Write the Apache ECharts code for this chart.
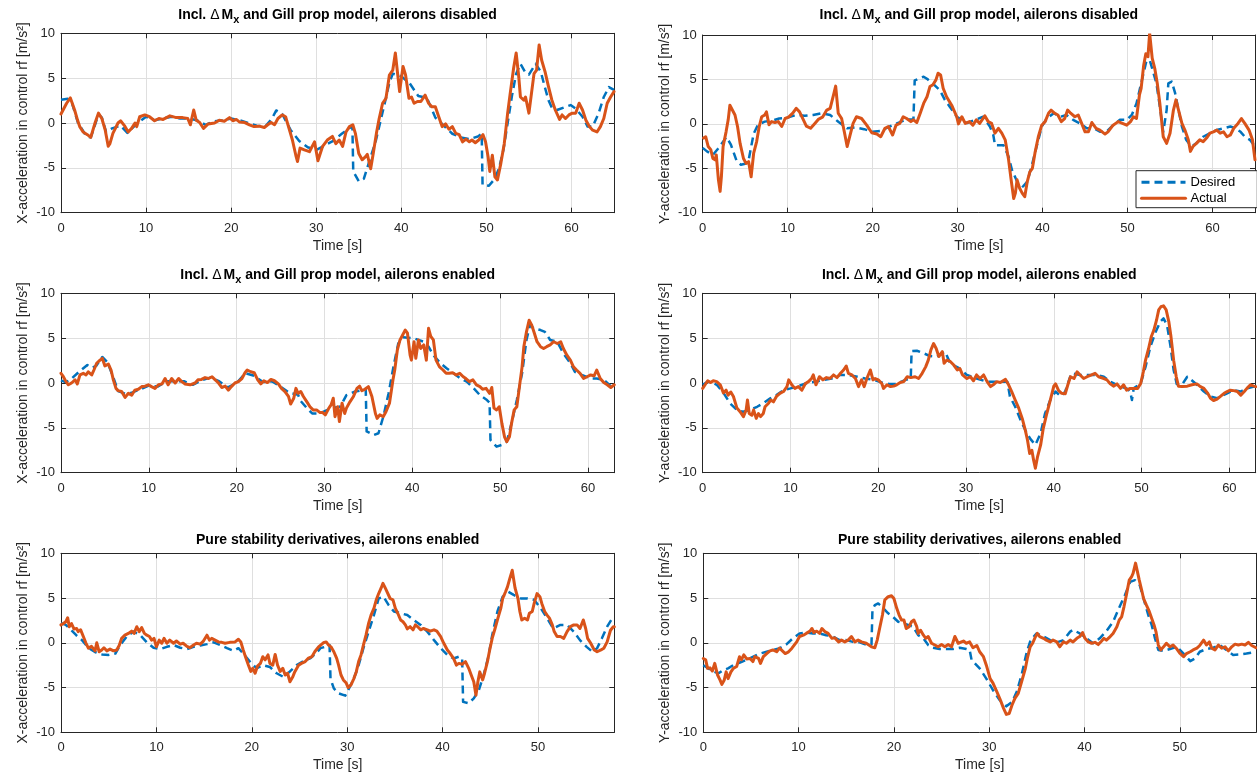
<!DOCTYPE html>
<html><head><meta charset="utf-8">
<script src="https://cdn.jsdelivr.net/npm/echarts@6/dist/echarts.min.js"></script>
<style>html,body{margin:0;padding:0;background:#fff}#c{width:1257px;height:778px}</style>
</head><body><div id="c"></div>
<script>
// ---------- DATA ----------
const actual1 = [[0,1.0],[0.66,2.2],[1.1,2.8],[1.6,1.45],[1.95,0.3],[2.2,-0.4],[2.6,-1.0],[3.1,-1.3],[3.5,-1.6],[3.7,-1.7],[4.0,0.0],[4.4,1.1],[4.8,0.5],[5.2,-0.8],[5.55,-2.6],[5.75,-2.3],[6.1,-1.15],[6.7,0.0],[7.0,0.25],[7.5,-0.35],[7.9,-1.0],[8.3,-0.6],[8.7,0.0],[8.9,-0.4],[9.25,0.7],[9.85,0.9],[10.4,0.7],[11.0,0.25],[11.5,0.5],[12.0,0.4],[12.8,0.8],[13.55,0.6],[14.3,0.6],[14.9,0.5],[15.2,-0.2],[15.6,1.45],[15.9,0.3],[16.3,0.05],[16.75,-0.6],[17.3,-0.1],[18.05,0.0],[18.6,0.3],[19.2,0.2],[19.8,0.6],[20.2,0.25],[20.6,0.4],[21.0,0.1],[21.6,0.05],[22.15,-0.2],[22.7,-0.4],[23.3,-0.35],[23.9,-0.5],[24.3,-0.2],[24.7,0.05],[25.1,-0.2],[25.5,0.5],[26.0,0.9],[26.4,0.7],[26.8,-0.6],[27.2,-1.9],[27.6,-3.6],[27.8,-4.3],[28.1,-2.8],[28.6,-3.0],[29.2,-3.2],[29.8,-2.1],[30.2,-4.2],[30.75,-2.6],[31.3,-1.9],[31.9,-1.5],[32.3,-2.3],[32.7,-1.9],[33.1,-2.6],[33.5,-1.0],[33.9,-0.4],[34.3,-0.2],[34.6,-1.15],[35.0,-3.4],[35.4,-4.1],[35.8,-3.75],[36.0,-3.5],[36.4,-5.1],[36.7,-3.4],[37.1,-1.0],[37.4,0.5],[37.8,2.2],[38.2,2.75],[38.6,5.35],[39.0,5.9],[39.3,7.8],[39.6,5.2],[39.8,3.5],[40.2,6.3],[40.5,5.35],[40.9,2.75],[41.2,2.9],[41.5,2.2],[41.9,2.4],[42.3,2.4],[42.8,3.1],[43.2,2.2],[43.6,1.8],[44.0,1.8],[44.4,0.7],[44.8,-0.4],[45.2,-0.1],[45.6,-0.7],[46.0,-0.4],[46.4,-1.15],[46.8,-1.3],[47.2,-2.1],[47.6,-1.8],[48.0,-2.1],[48.3,-1.9],[48.7,-2.2],[49.1,-1.9],[49.6,-1.3],[49.9,-2.1],[50.2,-3.75],[50.4,-5.4],[50.7,-3.6],[51.0,-6.0],[51.3,-6.35],[51.7,-4.5],[52.1,-2.3],[52.5,1.1],[52.8,3.3],[53.2,6.1],[53.5,7.8],[53.8,5.2],[54.0,2.9],[54.4,2.55],[54.6,2.9],[55.0,1.1],[55.3,3.3],[55.6,5.5],[55.9,5.9],[56.2,8.7],[56.5,7.0],[56.9,5.7],[57.3,4.05],[57.7,2.55],[58.1,1.45],[58.6,0.4],[58.9,0.9],[59.3,0.5],[59.7,0.9],[60.1,1.1],[60.5,1.1],[60.9,2.2],[61.3,1.45],[61.7,0.3],[62.1,-0.4],[62.5,-0.8],[63.0,-1.0],[63.4,-0.4],[63.8,0.5],[64.2,2.2],[64.6,2.9],[65,3.5]];
const desired1 = [[0,2.6],[0.8,2.7],[1.3,2.2],[2.0,0.0],[3.0,-1.5],[3.5,-1.6],[4.0,-0.2],[4.4,1.0],[4.8,0.6],[5.3,-1.0],[6.0,-0.6],[7.0,-0.3],[7.8,-1.1],[9.0,0.0],[10.0,0.7],[11.0,0.3],[12.0,0.5],[13.0,0.7],[14.0,0.5],[15.0,0.5],[16.0,0.3],[17.0,-0.2],[18.0,0.2],[19.0,0.3],[20.0,0.5],[21.0,0.3],[22.0,0.0],[23.0,-0.3],[24.0,-0.4],[24.8,0.5],[25.3,1.4],[26.0,1.0],[27.0,-0.8],[28.0,-2.0],[29.0,-2.7],[30.0,-3.0],[31.0,-2.5],[32.0,-2.0],[33.0,-1.2],[34.0,-0.5],[34.25,-0.4],[34.35,-5.4],[35.0,-6.5],[35.6,-6.2],[36.0,-5.0],[37.0,-2.0],[38.0,2.0],[38.6,4.5],[39.0,5.5],[40.0,5.2],[41.0,4.4],[42.0,3.0],[43.0,2.8],[43.6,1.5],[44.0,0.6],[45.0,-0.3],[46.0,-1.2],[47.0,-1.6],[48.0,-1.8],[49.0,-1.5],[49.45,-1.2],[49.55,-6.9],[50.3,-7.0],[51.0,-6.2],[51.5,-5.0],[52.0,-3.0],[52.5,0.0],[53.0,3.0],[53.5,5.5],[54.0,6.6],[54.6,5.6],[55.0,5.4],[55.8,6.6],[56.4,5.7],[56.9,3.9],[57.3,2.55],[57.7,1.7],[58.3,1.45],[59.3,1.8],[59.9,2.0],[60.5,1.6],[61.3,0.7],[61.9,-0.4],[62.5,-0.4],[63.2,1.1],[63.8,2.9],[64.4,4.0],[65,3.7]];
const actual2 = [[0.1,-1.6],[0.35,-1.45],[0.65,-2.55],[0.95,-2.9],[1.2,-3.9],[1.45,-4.05],[1.6,-3.5],[1.85,-6.3],[2.05,-7.6],[2.2,-5.95],[2.4,-2.55],[2.75,-0.9],[3.0,0.45],[3.2,2.1],[3.4,1.9],[3.8,1.0],[4.1,-0.3],[4.4,-2.2],[4.8,-3.9],[5.1,-4.45],[5.4,-4.25],[5.7,-5.95],[6.0,-3.3],[6.35,-2.0],[6.65,-0.3],[6.95,0.8],[7.3,1.0],[7.5,1.35],[7.8,-0.1],[8.1,0.25],[8.5,0.15],[8.9,0.25],[9.3,-0.3],[9.7,0.6],[10.1,0.75],[10.6,1.2],[11.0,1.75],[11.4,1.35],[11.85,0.45],[12.2,-0.25],[12.7,-0.5],[13.2,0.05],[13.6,0.5],[14.1,0.75],[14.6,1.55],[15.0,1.75],[15.2,1.55],[15.45,3.45],[15.65,4.25],[15.95,1.2],[16.35,0.6],[16.7,-1.05],[17.0,-2.55],[17.3,-1.45],[17.7,0.05],[18.1,0.8],[18.7,0.6],[19.3,-0.15],[19.9,-1.0],[20.5,-1.15],[20.95,-1.45],[21.45,-0.5],[21.85,-0.3],[22.35,-1.25],[22.75,-0.15],[23.2,0.05],[23.6,0.8],[24.0,0.6],[24.5,0.25],[24.8,0.45],[25.2,0.15],[25.6,1.2],[26.0,2.3],[26.4,3.05],[26.75,4.2],[27.1,4.4],[27.45,4.95],[27.7,5.7],[28.0,5.5],[28.3,4.0],[28.7,3.05],[29.3,2.1],[29.9,0.8],[30.1,0.0],[30.5,0.8],[30.9,0.05],[31.4,0.25],[31.8,-0.15],[32.2,0.45],[32.6,0.05],[33.2,0.9],[33.6,0.25],[34.0,0.05],[34.4,-1.05],[34.8,-0.5],[35.2,-1.05],[35.6,-1.8],[36.0,-4.05],[36.3,-6.3],[36.6,-8.4],[36.8,-7.8],[37.0,-6.3],[37.3,-7.25],[37.6,-7.8],[37.9,-8.2],[38.2,-6.5],[38.5,-5.4],[38.8,-5.0],[39.1,-3.3],[39.5,-1.45],[39.9,-0.15],[40.3,0.25],[40.7,1.2],[41.0,1.55],[41.4,1.2],[41.8,1.0],[42.2,0.25],[42.6,0.6],[42.95,1.55],[43.3,1.2],[43.8,0.8],[44.2,1.0],[44.6,0.05],[45.0,-0.9],[45.4,-0.9],[45.8,0.15],[46.3,-0.5],[46.75,-0.7],[47.35,-1.15],[47.7,-0.9],[48.3,-0.15],[48.9,0.25],[49.4,0.05],[49.9,-0.15],[50.35,0.25],[50.7,0.8],[51.05,0.6],[51.4,3.25],[51.6,4.0],[51.9,6.6],[52.15,7.9],[52.4,7.55],[52.6,10.2],[52.9,7.4],[53.2,6.25],[53.5,4.55],[53.8,2.3],[54.0,0.45],[54.2,-1.45],[54.6,-2.2],[55.0,-1.05],[55.4,1.55],[55.7,2.7],[56.0,1.55],[56.4,0.05],[56.75,-0.7],[57.15,-1.8],[57.4,-3.1],[57.7,-2.55],[58.1,-2.2],[58.5,-1.8],[58.9,-2.0],[59.3,-1.6],[59.7,-1.05],[60.1,-0.9],[60.5,-0.7],[60.9,-1.05],[61.3,-0.9],[61.7,-1.45],[62.1,-1.25],[62.5,-0.5],[63.0,0.05],[63.4,0.6],[63.8,0.05],[64.3,-0.7],[64.7,-1.8],[65,-4.05]];
const desired2 = [[0,-2.7],[0.5,-3.1],[1.2,-3.5],[1.8,-2.8],[2.8,-1.5],[3.3,-2.3],[4.0,-4.2],[4.5,-4.6],[5.0,-4.5],[5.4,-4.1],[6.0,-1.1],[6.5,-0.1],[7.3,0.25],[8.3,0.4],[9.0,0.6],[10.0,0.7],[11.0,1.0],[12.0,0.9],[13.0,1.0],[14.0,1.2],[15.0,1.0],[16.0,0.2],[17.0,-0.5],[18.0,-0.4],[19.0,-0.6],[20.0,-0.9],[21.0,-0.8],[22.0,-0.3],[23.0,0.1],[24.0,0.5],[24.8,0.5],[24.95,4.9],[25.5,5.1],[26.0,5.3],[26.5,5.0],[27.0,4.6],[27.9,3.8],[28.5,2.7],[29.1,1.9],[29.9,0.8],[31.1,0.1],[33.0,0.8],[33.8,-0.3],[34.2,-1.25],[34.4,-2.4],[35.4,-2.4],[35.6,-2.2],[36.0,-3.7],[36.4,-5.2],[37.0,-6.5],[37.7,-7.05],[38.2,-6.5],[38.7,-4.8],[39.3,-2.55],[39.9,-0.3],[40.5,0.6],[41.3,1.2],[42.1,0.8],[42.8,1.0],[43.6,0.45],[44.4,0.05],[45.2,-0.5],[46.0,-0.5],[46.8,-0.9],[47.5,-0.9],[48.3,-0.15],[49.1,0.45],[49.9,0.45],[50.5,1.0],[51.05,2.3],[51.6,4.55],[52.2,7.0],[52.6,7.2],[53.0,5.9],[53.4,4.55],[53.8,1.95],[54.2,-0.9],[54.4,-1.1],[54.6,1.55],[54.8,4.55],[55.2,4.75],[55.6,3.45],[56.0,1.55],[56.4,-0.3],[56.9,-1.8],[57.5,-2.55],[58.1,-2.2],[58.9,-1.45],[59.7,-1.05],[60.5,-0.7],[61.3,-0.5],[62.1,-0.3],[62.7,-0.5],[63.3,-0.9],[63.8,-1.45],[64.4,-1.8],[65,-2.55]];
const actual3 = [[0,1.08],[0.27,0.7],[0.57,0.15],[0.84,-0.2],[1.2,0.0],[1.6,0.35],[1.86,-0.1],[2.16,0.9],[2.54,1.08],[2.85,0.9],[3.1,1.25],[3.5,0.9],[3.75,1.45],[4.06,2.2],[4.44,2.55],[4.7,2.75],[5.0,1.9],[5.4,2.1],[5.7,1.45],[5.96,0.35],[6.26,-0.6],[6.5,-0.85],[6.9,-0.95],[7.3,-1.6],[7.67,-1.15],[8.05,-1.35],[8.4,-0.8],[8.8,-0.7],[9.2,-0.4],[9.57,-0.35],[9.95,-0.2],[10.3,-0.4],[10.7,-0.6],[11.1,-0.2],[11.5,-0.1],[11.85,0.5],[12.2,-0.2],[12.6,0.5],[13.0,0.0],[13.4,0.5],[13.75,0.15],[14.1,-0.1],[14.7,-0.2],[15.26,0.0],[15.6,0.35],[16.0,0.4],[16.4,0.6],[16.8,0.5],[17.2,0.7],[17.5,0.4],[17.9,0.05],[18.3,-0.5],[18.7,-0.35],[19.05,-0.8],[19.4,-0.4],[19.8,0.0],[20.2,0.15],[20.6,0.5],[20.95,1.15],[21.2,1.45],[21.6,1.25],[22.0,1.15],[22.4,0.35],[22.75,-0.1],[23.1,0.25],[23.5,0.05],[23.9,0.4],[24.3,0.25],[24.75,-0.1],[25.1,-0.6],[25.5,-0.95],[25.9,-1.5],[26.15,-2.35],[26.5,-1.7],[26.75,-0.6],[27.0,-1.15],[27.3,-0.95],[27.6,-1.5],[28.0,-2.1],[28.35,-2.65],[28.7,-3.0],[29.1,-3.0],[29.5,-3.3],[29.8,-3.3],[30.1,-3.55],[30.5,-2.8],[30.75,-2.45],[31.0,-1.7],[31.2,-3.75],[31.5,-2.65],[31.7,-4.3],[32.0,-2.25],[32.3,-3.4],[32.5,-2.8],[32.9,-2.1],[33.3,-1.5],[33.7,-0.6],[34.0,-0.35],[34.25,-0.85],[34.6,-0.7],[35.0,-0.4],[35.4,-1.5],[35.8,-3.4],[36.0,-3.95],[36.3,-3.55],[36.7,-3.75],[37.0,-3.2],[37.4,-2.25],[37.8,0.35],[38.0,1.45],[38.3,3.7],[38.6,4.8],[38.9,5.35],[39.2,5.9],[39.45,5.55],[39.75,3.1],[39.9,2.55],[40.2,4.6],[40.4,2.75],[40.7,4.8],[40.95,3.85],[41.3,4.25],[41.6,2.55],[41.85,6.1],[42.1,5.2],[42.4,4.8],[42.7,2.55],[43.1,1.8],[43.5,1.45],[43.85,1.08],[44.2,1.08],[44.6,1.15],[45.0,0.9],[45.4,1.08],[45.8,0.7],[46.1,0.5],[46.5,0.15],[46.9,0.35],[47.3,-0.2],[47.7,-0.4],[48.0,-0.7],[48.4,-0.6],[48.8,-1.15],[49.05,-0.5],[49.3,-2.8],[49.6,-3.0],[49.9,-2.65],[50.2,-4.5],[50.5,-6.0],[50.75,-6.55],[51.06,-6.0],[51.3,-4.5],[51.6,-3.0],[51.9,-2.65],[52.2,-0.4],[52.5,1.8],[52.7,4.05],[53.0,5.7],[53.3,7.0],[53.6,6.45],[53.9,5.55],[54.2,4.6],[54.6,4.05],[54.95,3.85],[55.3,4.05],[55.7,4.25],[56.1,4.6],[56.5,4.4],[56.9,4.6],[57.2,3.85],[57.6,3.1],[58.0,2.55],[58.35,1.8],[58.7,1.45],[59.1,1.08],[59.5,0.5],[59.9,0.7],[60.3,0.9],[60.7,0.8],[61.0,1.45],[61.4,0.5],[61.8,0.05],[62.2,-0.2],[62.6,-0.5],[63,-0.2]];
const desired3 = [[0,0.3],[0.5,0.1],[1.0,0.3],[2.0,1.2],[3.0,2.0],[3.5,1.7],[4.0,1.9],[4.7,2.9],[5.3,2.3],[6.0,0.5],[6.5,-0.9],[7.3,-1.2],[8.0,-1.1],[9.0,-0.7],[10.0,-0.3],[11.0,-0.4],[12.0,0.2],[13.0,0.2],[14.0,0.2],[15.0,-0.2],[16.0,0.3],[17.0,0.6],[18.0,0.2],[19.0,-0.5],[20.0,0.0],[21.0,1.1],[22.0,0.8],[23.0,0.1],[24.0,0.2],[25.0,-0.4],[26.0,-1.1],[27.0,-1.3],[27.2,-1.9],[28.0,-2.8],[28.6,-3.4],[29.3,-3.4],[29.9,-3.2],[30.8,-2.8],[31.8,-2.65],[32.5,-1.35],[33.5,-0.95],[34.25,-0.8],[34.7,-0.7],[34.8,-5.4],[35.6,-5.8],[36.15,-5.6],[36.7,-3.75],[37.3,-1.15],[37.85,1.8],[38.4,4.4],[38.95,5.1],[40.1,5.0],[41.3,4.6],[41.85,4.05],[42.4,3.1],[43.2,2.2],[43.9,1.65],[44.7,1.08],[45.5,0.5],[46.2,0.15],[47.0,-0.6],[47.7,-1.35],[48.5,-1.9],[48.8,-2.2],[48.9,-6.35],[49.6,-7.1],[50.2,-6.9],[50.75,-6.55],[51.3,-4.5],[51.9,-1.9],[52.5,1.08],[53.0,4.8],[53.4,6.45],[53.8,6.1],[54.6,5.9],[55.1,5.7],[55.7,4.8],[56.5,4.6],[57.2,3.3],[58.0,2.2],[58.5,1.25],[59.3,0.9],[60.3,0.5],[61.0,0.5],[61.8,0.35],[62.6,-0.35],[63,-0.4]];
const actual4 = [[0,-0.6],[0.27,-0.2],[0.57,0.25],[0.9,0.05],[1.2,0.25],[1.6,0.15],[2.0,-0.2],[2.36,-1.1],[2.66,-0.8],[2.9,-1.35],[3.2,-1.0],[3.5,-1.5],[3.9,-2.8],[4.26,-3.2],[4.64,-3.75],[4.95,-3.0],[5.1,-1.9],[5.3,-3.4],[5.6,-3.6],[5.8,-3.0],[6.1,-3.95],[6.35,-3.4],[6.6,-3.75],[6.9,-3.4],[7.1,-2.65],[7.5,-2.25],[7.75,-1.9],[8.06,-2.1],[8.4,-1.5],[8.8,-1.15],[9.2,-0.95],[9.6,-0.4],[9.8,0.35],[10.15,-0.2],[10.5,-0.6],[10.9,-0.4],[11.3,-0.8],[11.7,-0.05],[12.05,0.15],[12.4,0.5],[12.6,0.9],[12.9,-0.2],[13.3,0.7],[13.7,0.35],[14.1,0.6],[14.5,0.5],[14.9,0.9],[15.3,0.6],[15.7,1.08],[16.05,1.45],[16.35,1.9],[16.6,1.08],[17.0,0.9],[17.4,0.5],[17.75,-0.4],[18.1,0.35],[18.4,-0.4],[18.7,0.5],[19.1,1.45],[19.4,0.35],[19.65,0.5],[20.0,0.35],[20.4,-0.05],[20.6,-0.6],[21.0,-0.2],[21.4,-0.4],[21.75,-0.35],[22.1,-0.2],[22.5,0.05],[22.9,0.15],[23.3,0.7],[23.7,0.6],[24.2,0.7],[24.6,0.5],[25.0,1.08],[25.4,1.8],[25.7,2.55],[26.0,3.7],[26.3,4.4],[26.6,3.85],[26.9,2.95],[27.3,3.5],[27.5,2.2],[27.8,2.55],[28.2,2.4],[28.6,2.0],[29.0,1.45],[29.3,1.6],[29.6,0.9],[30.1,0.5],[30.5,0.7],[30.85,0.25],[31.2,0.9],[31.6,0.5],[32.0,0.9],[32.4,0.15],[32.8,-0.4],[33.1,-0.2],[33.5,0.15],[33.9,0.05],[34.5,0.4],[34.85,-0.2],[35.2,-0.95],[35.6,-1.9],[36.0,-2.8],[36.4,-3.95],[36.75,-5.25],[37.0,-6.35],[37.25,-7.85],[37.5,-7.5],[37.7,-8.6],[37.9,-9.5],[38.15,-8.2],[38.5,-6.9],[38.8,-5.05],[39.2,-3.4],[39.6,-1.9],[40.0,-0.35],[40.2,-0.1],[40.55,-0.85],[40.9,-1.15],[41.3,-1.2],[41.6,-0.2],[41.9,0.7],[42.3,0.5],[42.65,1.25],[43.0,0.9],[43.4,0.5],[43.8,0.7],[44.3,0.9],[44.7,1.08],[45.1,0.7],[45.7,0.5],[46.05,0.35],[46.4,-0.05],[46.8,-0.35],[47.2,-0.1],[47.6,-0.6],[47.95,-0.2],[48.3,-0.8],[48.7,-0.6],[49.1,-0.6],[49.55,-0.6],[49.9,-0.05],[50.2,1.25],[50.45,2.55],[50.8,3.85],[51.1,5.15],[51.4,5.9],[51.7,7.0],[51.95,8.15],[52.2,8.5],[52.5,8.6],[52.8,8.15],[53.1,6.85],[53.35,5.15],[53.65,2.55],[53.95,0.7],[54.2,-0.35],[54.6,-0.4],[55.2,-0.35],[55.75,-0.2],[56.3,-0.1],[56.7,-0.4],[57.1,-0.6],[57.5,-1.1],[57.85,-1.7],[58.2,-1.95],[58.6,-1.8],[58.98,-1.5],[59.4,-1.15],[59.75,-0.95],[60.1,-0.8],[60.5,-0.85],[60.9,-0.95],[61.3,-1.35],[61.7,-0.95],[62.0,-0.6],[62.4,-0.2],[62.8,-0.35],[63,-0.4]];
const desired4 = [[0,-0.2],[0.5,0.1],[1.0,0.1],[1.6,-0.2],[2.4,-1.15],[3.1,-2.25],[3.9,-3.0],[4.6,-3.2],[5.4,-3.0],[6.2,-2.65],[6.9,-2.25],[7.7,-1.7],[8.4,-1.35],[9.2,-0.8],[10.0,-0.6],[10.9,-0.35],[11.9,0.0],[12.8,0.15],[13.8,0.35],[14.7,0.5],[15.7,0.9],[16.6,0.9],[17.6,0.7],[18.5,0.5],[19.5,0.35],[20.4,0.05],[21.2,-0.1],[22.1,-0.1],[23.1,0.35],[23.7,0.5],[23.8,3.55],[24.4,3.6],[25.2,3.3],[25.9,3.0],[26.7,2.95],[27.6,3.5],[28.2,2.2],[29.2,1.65],[30.1,0.9],[31.2,0.5],[32.4,0.15],[33.5,0.15],[34.7,0.15],[35.0,-1.5],[35.6,-2.65],[36.2,-4.1],[36.75,-5.25],[37.3,-6.2],[37.9,-6.9],[38.5,-5.6],[39.0,-3.4],[39.6,-1.9],[40.2,-0.95],[40.8,-1.5],[41.3,-0.95],[42.0,1.08],[43.0,0.9],[44.1,0.9],[44.9,0.9],[45.7,0.7],[46.4,0.15],[47.6,-0.4],[48.3,-0.6],[48.7,-0.95],[48.9,-1.9],[49.1,-0.6],[49.9,-0.05],[50.45,1.8],[51.0,4.05],[51.6,5.7],[52.15,6.85],[52.5,7.2],[52.9,6.45],[53.3,4.05],[53.65,1.45],[54.0,-0.1],[54.6,-0.2],[55.2,0.7],[55.6,0.4],[56.3,-0.2],[57.1,-0.95],[57.85,-1.5],[58.6,-1.7],[59.75,-1.15],[60.5,-0.8],[61.3,-0.95],[62.0,-0.6],[63,-0.35]];
const actual5 = [[0,2.0],[0.25,2.15],[0.5,2.35],[0.7,2.8],[0.87,1.8],[1.1,2.15],[1.36,1.55],[1.64,1.6],[1.8,1.25],[2.06,1.45],[2.34,0.7],[2.6,0.0],[2.87,-0.6],[3.2,-0.4],[3.57,-0.9],[3.75,0.0],[4.0,-1.0],[4.27,-0.8],[4.5,-0.55],[4.8,-0.9],[5.14,-0.7],[5.5,-0.9],[5.84,-0.8],[6.1,-0.3],[6.36,0.5],[6.7,0.85],[7.06,1.05],[7.4,1.3],[7.66,1.05],[7.94,1.8],[8.2,1.25],[8.46,1.7],[8.74,1.05],[9.0,0.85],[9.27,0.7],[9.5,0.3],[9.75,0.5],[10.0,-0.45],[10.3,0.3],[10.56,-0.05],[10.8,0.5],[11.1,-0.05],[11.4,0.3],[11.8,-0.05],[12.1,0.2],[12.5,-0.15],[12.8,-0.05],[13.2,-0.4],[13.5,-0.55],[13.9,-0.25],[14.2,-0.05],[14.6,-0.15],[14.9,0.15],[15.3,0.85],[15.56,0.3],[15.8,0.5],[16.15,0.3],[16.5,0.1],[16.85,0.05],[17.2,-0.05],[17.7,0.05],[18.25,0.1],[18.6,0.4],[18.85,0.1],[19.1,-0.8],[19.4,-1.75],[19.65,-2.5],[19.9,-3.2],[20.1,-2.85],[20.35,-3.4],[20.6,-2.6],[20.9,-2.3],[21.15,-1.55],[21.4,-1.9],[21.7,-1.35],[21.9,-2.3],[22.2,-2.5],[22.45,-1.3],[22.7,-2.5],[22.97,-3.2],[23.25,-2.85],[23.5,-3.6],[23.75,-3.4],[24.0,-4.35],[24.3,-3.8],[24.5,-3.25],[24.9,-2.5],[25.2,-2.3],[25.6,-2.1],[25.9,-1.75],[26.3,-1.55],[26.6,-1.0],[27.0,-0.45],[27.2,-0.45],[27.5,0.0],[27.8,0.1],[28.05,-0.25],[28.3,-0.45],[28.6,-1.0],[28.9,-1.75],[29.1,-2.5],[29.35,-3.6],[29.6,-4.15],[29.9,-4.5],[30.1,-5.0],[30.4,-4.7],[30.7,-4.0],[30.95,-3.25],[31.2,-2.1],[31.45,-1.35],[31.7,-0.25],[31.97,0.85],[32.25,2.2],[32.5,3.1],[32.8,3.85],[33.05,4.8],[33.3,5.5],[33.55,6.1],[33.75,6.65],[34.0,6.1],[34.2,5.9],[34.5,4.95],[34.8,4.8],[35.05,3.85],[35.3,3.3],[35.6,2.55],[35.85,2.35],[36.1,2.0],[36.3,1.55],[36.6,1.8],[36.9,1.45],[37.15,2.0],[37.4,1.8],[37.7,1.45],[38.0,1.6],[38.4,1.45],[38.7,1.3],[39.1,1.45],[39.4,1.3],[39.8,0.7],[40.1,0.0],[40.5,-0.8],[40.8,-1.2],[41.15,-1.75],[41.45,-2.5],[41.7,-2.3],[42.05,-2.4],[42.4,-2.1],[42.74,-2.85],[43.0,-3.6],[43.27,-4.35],[43.5,-5.85],[43.7,-4.35],[43.9,-3.25],[44.2,-4.15],[44.4,-3.4],[44.7,-2.1],[44.9,-1.0],[45.2,0.5],[45.5,1.6],[45.8,2.75],[46.1,3.85],[46.3,4.95],[46.6,5.7],[46.8,6.25],[47.05,7.2],[47.3,8.1],[47.45,8.3],[47.6,6.1],[47.9,4.95],[48.1,3.5],[48.3,2.55],[48.6,2.75],[48.9,2.55],[49.1,3.3],[49.4,3.5],[49.6,4.4],[49.9,5.5],[50.2,5.15],[50.4,4.4],[50.7,3.5],[50.95,3.1],[51.2,2.75],[51.5,2.0],[51.7,1.25],[52.0,0.7],[52.35,0.7],[52.7,0.5],[53.05,1.25],[53.4,1.8],[53.75,2.0],[54.1,2.0],[54.4,1.6],[54.75,2.55],[55.0,1.6],[55.2,0.5],[55.5,0.0],[55.9,-0.8],[56.2,-1.0],[56.6,-0.8],[56.9,-0.6],[57.25,0.1],[57.6,1.4],[57.9,1.8],[58,1.8]];
const desired5 = [[0,2.2],[0.5,2.0],[1.0,1.5],[1.6,0.85],[2.2,0.3],[2.9,-0.6],[3.6,-1.05],[4.3,-1.3],[5.0,-1.35],[5.7,-1.2],[6.2,-0.25],[6.9,0.7],[7.6,1.25],[8.3,0.85],[9.0,0.05],[9.7,-0.55],[10.4,-0.7],[11.1,-0.45],[11.8,-0.25],[12.5,-0.55],[13.2,-0.7],[13.9,-0.45],[14.6,-0.3],[15.3,-0.15],[16.0,0.05],[16.7,-0.25],[17.4,-0.6],[18.1,-0.9],[18.6,-0.6],[19.1,-1.2],[19.8,-2.1],[20.5,-2.85],[21.2,-2.5],[21.9,-2.7],[22.6,-3.4],[23.3,-3.8],[24.0,-3.2],[24.7,-2.5],[25.4,-2.05],[26.1,-1.75],[26.8,-1.1],[27.2,-0.6],[27.7,-0.45],[28.15,-0.25],[28.25,-4.0],[28.6,-5.1],[29.1,-5.65],[29.8,-5.9],[30.1,-5.3],[30.7,-4.0],[31.2,-2.5],[31.7,-0.6],[32.25,1.25],[32.8,3.1],[33.3,4.95],[33.8,5.15],[34.35,4.2],[34.9,3.5],[35.6,3.3],[36.3,3.1],[36.97,2.55],[37.7,2.0],[38.4,1.25],[39.1,0.3],[39.8,-0.6],[40.5,-1.35],[41.15,-1.75],[41.7,-1.55],[42.05,-1.75],[42.15,-6.6],[42.74,-6.75],[43.27,-6.2],[43.8,-5.3],[44.3,-3.6],[44.8,-1.55],[45.2,0.85],[45.75,3.5],[46.3,5.15],[46.9,5.7],[47.45,5.35],[48.2,4.95],[48.9,4.95],[49.6,4.8],[50.3,3.85],[50.95,2.75],[51.6,1.6],[52.35,2.0],[53.05,2.0],[53.75,1.25],[54.4,0.3],[55.1,-0.45],[55.7,-1.0],[56.2,-0.6],[56.7,0.5],[57.25,1.8],[57.8,2.75],[58,2.9]];
const actual6 = [[0,-1.75],[0.25,-1.9],[0.45,-2.85],[0.7,-2.8],[0.95,-3.15],[1.2,-2.3],[1.5,-3.6],[1.75,-4.15],[1.95,-4.65],[2.2,-4.15],[2.4,-3.25],[2.6,-4.0],[2.9,-3.25],[3.15,-2.85],[3.5,-2.65],[3.8,-1.55],[4.0,-1.9],[4.25,-1.35],[4.55,-1.8],[4.9,-1.75],[5.2,-2.1],[5.4,-1.55],[5.8,-1.75],[6.0,-2.3],[6.3,-1.55],[6.65,-1.2],[7.0,-0.9],[7.3,-0.8],[7.7,-1.0],[8.0,-0.6],[8.3,-0.9],[8.6,-1.2],[8.9,-1.05],[9.3,-0.6],[9.5,-0.8],[9.8,0.1],[10.1,0.7],[10.5,0.85],[10.8,1.05],[11.2,1.3],[11.4,1.6],[11.6,1.15],[11.9,1.3],[12.2,1.05],[12.45,1.6],[12.75,1.25],[13.1,1.05],[13.5,0.5],[13.8,0.55],[14.2,0.1],[14.5,0.3],[14.85,0.1],[15.2,0.3],[15.55,0.7],[15.9,0.1],[16.25,0.3],[16.6,0.1],[17.1,-0.05],[17.65,-0.45],[18.0,-0.55],[18.25,0.3],[18.5,1.6],[18.8,3.1],[19.05,4.8],[19.4,5.15],[19.75,5.25],[20.0,4.95],[20.3,3.85],[20.55,3.1],[20.8,2.55],[21.05,2.55],[21.3,1.6],[21.6,1.8],[21.85,2.35],[22.1,2.55],[22.4,1.8],[22.55,1.05],[22.8,1.4],[23.1,0.85],[23.35,0.5],[23.6,0.7],[23.95,-0.05],[24.3,-0.25],[24.65,-0.45],[25.0,-0.2],[25.35,-0.45],[25.7,-0.2],[26.05,-0.45],[26.4,0.7],[26.75,-0.05],[26.9,0.05],[27.3,0.2],[27.6,-0.05],[27.95,0.1],[28.3,-0.55],[28.7,-0.3],[29.0,-1.0],[29.4,-1.55],[29.7,-2.5],[30.1,-4.0],[30.4,-4.5],[30.8,-5.45],[31.1,-6.2],[31.5,-7.3],[31.8,-8.0],[32.1,-7.9],[32.4,-6.95],[32.7,-6.2],[33.05,-5.65],[33.4,-4.35],[33.8,-2.85],[34.0,-1.75],[34.3,-0.45],[34.56,-0.05],[34.8,0.55],[35.05,1.05],[35.3,0.7],[35.7,0.5],[36.0,0.3],[36.4,0.1],[36.7,0.3],[37.1,0.1],[37.4,-0.45],[37.8,0.1],[38.1,-0.05],[38.5,0.3],[38.8,0.1],[39.2,0.5],[39.5,0.7],[39.8,1.15],[40.05,0.5],[40.4,0.1],[40.75,-0.05],[41.1,0.05],[41.45,-0.2],[41.8,0.2],[42.05,0.5],[42.3,0.3],[42.7,0.7],[43.0,1.05],[43.4,1.8],[43.65,2.55],[43.9,2.9],[44.15,4.05],[44.4,5.35],[44.7,7.0],[44.95,7.4],[45.1,7.75],[45.36,8.9],[45.5,8.7],[45.75,7.0],[46.0,5.9],[46.2,4.95],[46.5,4.2],[46.8,3.5],[47.05,2.75],[47.3,2.0],[47.5,1.25],[47.75,-0.25],[48.0,-0.8],[48.3,-0.45],[48.6,-0.05],[48.97,-0.45],[49.3,-0.25],[49.7,-0.7],[50.0,-1.15],[50.4,-1.55],[50.7,-1.2],[51.1,-1.0],[51.4,-0.8],[51.8,-0.6],[52.1,-0.3],[52.5,0.3],[52.8,-0.25],[53.1,0.1],[53.35,-0.6],[53.7,-0.8],[54.05,-0.25],[54.4,-0.6],[54.75,-0.45],[55.1,-0.9],[55.45,-0.45],[55.8,-0.15],[56.15,-0.25],[56.5,-0.15],[56.85,-0.25],[57.2,0.05],[57.55,-0.3],[58,-0.55]];
const desired6 = [[0,-2.5],[0.5,-2.85],[1.05,-3.2],[1.6,-3.4],[2.1,-3.05],[2.6,-2.85],[3.15,-2.5],[3.85,-2.2],[4.55,-1.9],[5.25,-1.55],[5.95,-1.2],[6.65,-1.0],[7.35,-0.8],[8.05,-0.6],[8.75,-0.15],[9.4,0.5],[10.1,1.05],[10.8,1.15],[11.5,1.05],[12.2,1.05],[12.9,0.85],[13.6,0.7],[14.3,0.3],[15.0,0.3],[15.7,0.1],[16.4,0.05],[17.1,-0.2],[17.65,-0.2],[17.75,3.7],[18.0,4.2],[18.35,4.4],[18.9,3.85],[19.4,3.3],[19.9,2.9],[20.45,2.35],[20.95,2.2],[21.5,2.0],[22.0,1.8],[22.55,0.85],[23.1,0.5],[23.6,-0.25],[24.1,-0.55],[24.8,-0.7],[25.5,-0.7],[26.2,-0.7],[26.9,-0.55],[27.6,-0.7],[27.95,-0.8],[28.15,-1.9],[28.3,-2.1],[29.0,-2.85],[29.7,-4.0],[30.4,-5.3],[31.1,-6.4],[31.8,-7.1],[32.4,-6.6],[32.9,-5.45],[33.4,-3.6],[33.95,-1.0],[34.35,0.3],[34.98,1.05],[35.7,0.7],[36.4,0.3],[37.1,0.05],[37.8,0.3],[38.5,1.25],[38.8,1.45],[39.5,1.05],[40.2,0.5],[40.9,-0.05],[41.6,0.5],[42.3,1.3],[43.0,2.35],[43.7,4.05],[44.25,5.35],[44.8,6.8],[45.3,7.0],[45.8,6.45],[46.2,4.95],[46.7,3.1],[47.05,2.0],[47.4,0.5],[47.75,-0.8],[48.3,-0.9],[48.97,-0.7],[49.7,-0.45],[50.4,-1.2],[51.1,-2.05],[51.6,-1.75],[52.1,-1.0],[52.8,-0.7],[53.5,-0.55],[54.2,-0.25],[54.9,-0.8],[55.6,-1.35],[56.3,-1.3],[57.0,-1.2],[58,-1.0]];

const titleTexts = [
  'Incl. {d|\u0394}M{s|x} and Gill prop model, ailerons disabled',
  'Incl. {d|\u0394}M{s|x} and Gill prop model, ailerons disabled',
  'Incl. {d|\u0394}M{s|x} and Gill prop model, ailerons enabled',
  'Incl. {d|\u0394}M{s|x} and Gill prop model, ailerons enabled',
  'Pure stability derivatives, ailerons enabled',
  'Pure stability derivatives, ailerons enabled'
];
const yLabels = [
  'X-acceleration in control rf [m/s\u00B2]', 'Y-acceleration in control rf [m/s\u00B2]',
  'X-acceleration in control rf [m/s\u00B2]', 'Y-acceleration in control rf [m/s\u00B2]',
  'X-acceleration in control rf [m/s\u00B2]', 'Y-acceleration in control rf [m/s\u00B2]'
];
const xLabel = 'Time [s]';
const xMax = [65, 65, 63, 63, 58, 58];
const xInterval = 10;
const yMin = -10, yMax = 10, yInterval = 5;
const seriesNames = ['Desired', 'Actual'];
const desiredSets = [desired1, desired2, desired3, desired4, desired5, desired6];
const actualSets = [actual1, actual2, actual3, actual4, actual5, actual6];

// ---------- LAYOUT / STYLE ----------
const panels = [
  {left: 61, top: 33.3, width: 553, height: 179.4, titleY: 15},
  {left: 702.7, top: 35, width: 552.3, height: 177.7, titleY: 15},
  {left: 61, top: 293.3, width: 553.3, height: 179.4, titleY: 275},
  {left: 702.7, top: 293.3, width: 553, height: 179.4, titleY: 275},
  {left: 61, top: 553.3, width: 553.3, height: 179, titleY: 540},
  {left: 703.3, top: 553.3, width: 552.7, height: 179, titleY: 540}
];
const FONT = '"Liberation Sans", Arial, Helvetica, sans-serif';
const AX = '#262626';
const GRIDC = '#dfdfdf';
const BLUE = '#0072BD', ORANGE = '#D95319';

const grids = [], xAxes = [], yAxes = [], series = [], graphics = [];
panels.forEach((p, i) => {
  grids.push({left: p.left, top: p.top, width: p.width, height: p.height, containLabel: false, outerBoundsMode: 'none'});
  const axLine = {show: true, onZero: false, lineStyle: {color: AX, width: 1}};
  const tick = {show: true, inside: true, length: 5, lineStyle: {color: AX, width: 1}};
  xAxes.push({
    gridIndex: i, type: 'value', position: 'bottom', min: 0, max: xMax[i], interval: xInterval,
    axisLine: axLine, axisTick: tick,
    axisLabel: {color: AX, fontSize: 13, fontFamily: FONT, margin: 9, showMaxLabel: false, showMinLabel: true},
    splitLine: {show: true, lineStyle: {color: GRIDC, width: 1}},
    name: xLabel, nameLocation: 'middle', nameGap: 26, nameMoveOverlap: false,
    nameTextStyle: {color: AX, fontSize: 14, fontFamily: FONT}
  });
  xAxes.push({
    gridIndex: i, type: 'value', position: 'top', min: 0, max: xMax[i], interval: xInterval,
    axisLine: axLine, axisTick: tick, axisLabel: {show: false}, splitLine: {show: false}
  });
  yAxes.push({
    gridIndex: i, type: 'value', position: 'left', min: yMin, max: yMax, interval: yInterval,
    axisLine: axLine, axisTick: tick,
    axisLabel: {color: AX, fontSize: 13, fontFamily: FONT, margin: 6},
    splitLine: {show: true, lineStyle: {color: GRIDC, width: 1}},
    name: yLabels[i], nameLocation: 'middle', nameGap: 31, nameMoveOverlap: false,
    nameTextStyle: {color: AX, fontSize: 14, fontFamily: FONT}
  });
  yAxes.push({
    gridIndex: i, type: 'value', position: 'right', min: yMin, max: yMax, interval: yInterval,
    axisLine: axLine, axisTick: tick, axisLabel: {show: false}, splitLine: {show: false}
  });
  series.push({
    type: 'line', name: seriesNames[0], xAxisIndex: 2 * i, yAxisIndex: 2 * i,
    data: desiredSets[i], symbol: 'none', showSymbol: false, clip: true, z: 2,
    lineStyle: {color: BLUE, width: 2.5, type: [8, 5], cap: 'butt', join: 'round'},
    itemStyle: {color: BLUE}
  });
  series.push({
    type: 'line', name: seriesNames[1], xAxisIndex: 2 * i, yAxisIndex: 2 * i,
    data: actualSets[i], symbol: 'none', showSymbol: false, clip: true, z: 3,
    lineStyle: {color: ORANGE, width: 3, cap: 'round', join: 'round'},
    itemStyle: {color: ORANGE}
  });
  graphics.push({
    type: 'text', x: p.left + p.width / 2, y: p.titleY, z: 10,
    style: {
      text: titleTexts[i], align: 'center', verticalAlign: 'middle',
      fill: '#000', font: 'bold 14px ' + FONT,
      rich: {
        d: {fontSize: 14, fontWeight: 'normal', fontFamily: FONT, fill: '#000', padding: [0, 2, 0, 0]},
        s: {fontSize: 11, fontWeight: 'bold', fontFamily: FONT, fill: '#000', padding: [10, 0, 0, 0]}
      }
    }
  });
});

const chart = echarts.init(document.getElementById('c'), null, {renderer: 'canvas'});
chart.setOption({
  animation: false,
  backgroundColor: '#fff',
  textStyle: {fontFamily: FONT},
  grid: grids, xAxis: xAxes, yAxis: yAxes, series: series,
  graphic: graphics,
  legend: {
    data: seriesNames, orient: 'vertical', left: 1136, top: 170.7,
    padding: [5, 22, 3, 4], itemGap: 3, itemWidth: 44, itemHeight: 14,
    backgroundColor: '#fff', borderColor: AX, borderWidth: 1, borderRadius: 0,
    itemStyle: {color: 'rgba(0,0,0,0)', borderColor: 'rgba(0,0,0,0)', borderWidth: 0, opacity: 0},
    lineStyle: {width: 3},
    textStyle: {color: '#000', fontSize: 13, fontFamily: FONT},
    selectedMode: false, z: 20
  }
});
</script></body></html>
